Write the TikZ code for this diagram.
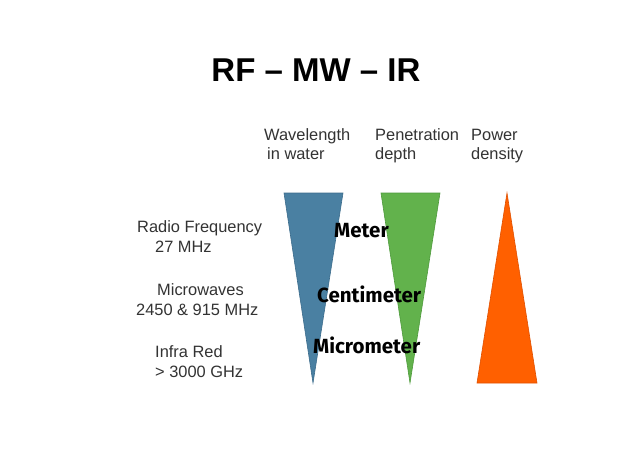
\documentclass[tikz,border=0pt]{standalone}
\usepackage{fontspec}
\setmainfont{Liberation Sans}
\newfontfamily\comicfont{Fira Sans}
\definecolor{wblue}{HTML}{4A80A2}
\definecolor{wblueE}{HTML}{3C6C8C}
\definecolor{pgreen}{HTML}{62B24C}
\definecolor{pgreenE}{HTML}{4E9A3C}
\definecolor{porange}{HTML}{FF6000}
\definecolor{porangeE}{HTML}{E05000}
\definecolor{txt}{HTML}{333333}
\begin{document}
\begin{tikzpicture}[x=1pt,y=-1pt,
  lbl/.style={anchor=base west,inner sep=0pt,font=\fontsize{16.4}{19}\selectfont,text=txt},
  comic/.style={anchor=base west,inner sep=0pt,font=\comicfont\bfseries\fontsize{20.5}{22}\selectfont,text=black},
  tri/.style={line width=0.6pt}]
\useasboundingbox[fill=white] (0,0) rectangle (638,451);
% title
\node[anchor=base,inner sep=0pt,font=\bfseries\fontsize{33}{36}\selectfont] (title) at (316,81) {RF -- MW -- IR};
% headers
\node[lbl] (h1a) at (264,140) {Wavelength};
\node[lbl] (h1b) at (267,159) {in water};
\node[lbl] (h2a) at (375,140) {Penetration};
\node[lbl] (h2b) at (375,159) {depth};
\node[lbl] (h3a) at (471,140) {Power};
\node[lbl] (h3b) at (471,159) {density};
% left labels
\node[lbl] (rf1) at (137,232) {Radio Frequency};
\node[lbl] (rf2) at (155,252) {27 MHz};
\node[lbl] (mw1) at (157,295) {Microwaves};
\node[lbl] (mw2) at (136,315) {2450 \& 915 MHz};
\node[lbl] (ir1) at (155,357) {Infra Red};
\node[lbl] (ir2) at (155,377) {> 3000 GHz};
% triangles
\draw[tri,fill=wblue,draw=wblueE] (284,193) -- (343,193) -- (313,383) -- cycle;
\draw[tri,fill=pgreen,draw=pgreenE] (381,193) -- (440,193) -- (410,383) -- cycle;
\draw[tri,fill=porange,draw=porangeE] (507,193) -- (537,383) -- (477,383) -- cycle;
% comic labels
\node[comic] (m) at (334,237) {Meter};
\node[comic] (c) at (317,302) {Centimeter};
\node[comic] (u) at (313,353) {Micrometer};
\end{tikzpicture}
\end{document}
